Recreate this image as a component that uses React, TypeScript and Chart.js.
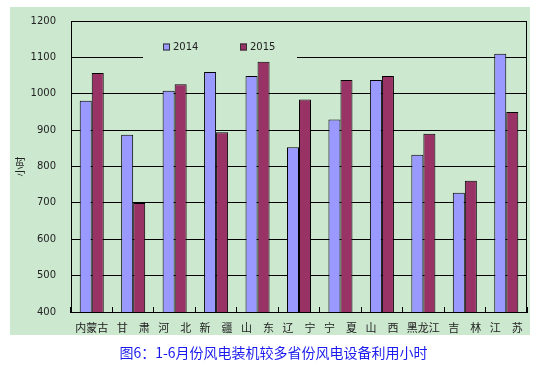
import React, { useEffect, useRef } from 'react';
import { Chart, registerables } from 'chart.js';

Chart.register(...registerables);

const provinces = ['内蒙古', '甘肃', '河北', '新疆', '山东', '辽宁', '宁夏', '山西', '黑龙江', '吉林', '江苏'];
const hours2014 = [981, 887, 1008, 1060, 1049, 853, 929, 1038, 832, 728, 1110];
const hours2015 = [1057, 700, 1026, 894, 1088, 984, 1038, 1049, 890, 761, 950];
const seriesLabels = ['2014', '2015'];
const seriesColors = ['#9999ff', '#993366'];
const yMin = 400;
const yMax = 1200;
const yStep = 100;
const yAxisTitle = '小时';
const chartTitle = '图6：1-6月份风电装机较多省份风电设备利用小时';

const PANEL = '#cce8cf';

const panelPlugin = {
  id: 'panel',
  beforeDraw(chart: any) {
    const ctx = chart.ctx;
    ctx.save();
    ctx.fillStyle = '#ffffff';
    ctx.fillRect(0, 0, chart.width, chart.height);
    ctx.fillStyle = PANEL;
    ctx.fillRect(10, 7, 520, 328);
    ctx.restore();
  },
};

const legendPlugin = {
  id: 'insideLegend',
  beforeDatasetsDraw(chart: any) {
    const ctx = chart.ctx;
    const ca = chart.chartArea;
    ctx.save();
    ctx.fillStyle = PANEL;
    ctx.fillRect(ca.left + 72, ca.top + 14, 154, 25);
    ctx.font = '10px "DejaVu Sans"';
    ctx.textBaseline = 'middle';
    const starts = [ca.left + 92, ca.left + 169];
    chart.data.datasets.forEach((ds: any, i: number) => {
      const x = starts[i];
      const y = ca.top + 26;
      ctx.fillStyle = ds.backgroundColor;
      ctx.fillRect(x, y - 3.5, 7, 7);
      ctx.strokeStyle = '#333';
      ctx.lineWidth = 1;
      ctx.strokeRect(x + 0.5, y - 3.5 + 0.5, 6, 6);
      ctx.fillStyle = '#222';
      ctx.fillText(ds.label, x + 10, y);
    });
    ctx.restore();
  },
  afterDraw(chart: any) {
    const ctx = chart.ctx;
    const ca = chart.chartArea;
    ctx.save();
    ctx.strokeStyle = '#000';
    ctx.lineWidth = 1;
    ctx.beginPath();
    ctx.moveTo(Math.round(ca.right) - 0.5, ca.top);
    ctx.lineTo(Math.round(ca.right) - 0.5, ca.bottom);
    ctx.stroke();
    ctx.restore();
  },
};

export default function App() {
  const ref = useRef<HTMLCanvasElement | null>(null);
  useEffect(() => {
    if (!ref.current) return;
    const chart = new Chart(ref.current, {
      type: 'bar',
      data: {
        labels: provinces,
        datasets: [
          {
            label: seriesLabels[0],
            data: hours2014,
            backgroundColor: seriesColors[0],
            borderColor: '#000',
            borderWidth: 1,
          },
          {
            label: seriesLabels[1],
            data: hours2015,
            backgroundColor: seriesColors[1],
            borderColor: '#000',
            borderWidth: 1,
          },
        ],
      },
      plugins: [panelPlugin, legendPlugin],
      options: {
        responsive: false,
        animation: false,
        devicePixelRatio: 1,
        layout: { padding: { left: 10, right: 12, top: 19, bottom: 0 } },
        datasets: { bar: { barPercentage: 1, categoryPercentage: 0.58 } },
        plugins: { legend: { display: false }, tooltip: { enabled: false }, title: { display: false } },
        scales: {
          x: {
            grid: { display: true, drawOnChartArea: false, drawTicks: true, tickLength: -5, color: '#000', offset: true },
            border: { display: true, color: '#000', width: 1 },
            ticks: {
              color: '#222',
              padding: 14,
              maxRotation: 0,
              autoSkip: false,
              font: { family: '"Noto Sans CJK SC"', size: 11 },
              callback: function (this: any, v: any) {
                const s: string = this.getLabelForValue(v);
                return s.length === 2 ? s[0] + '\u3000' + s[1] : s;
              },
            },
            afterFit(scale: any) {
              scale.height = 58;
            },
          },
          y: {
            min: yMin,
            max: yMax,
            grid: { color: '#000', drawTicks: false, lineWidth: 1 },
            border: { display: true, color: '#000', width: 1 },
            ticks: {
              stepSize: yStep,
              color: '#222',
              padding: 15,
              font: { family: '"DejaVu Sans"', size: 10 },
              callback: (v: any) => String(v),
            },
            title: {
              display: true,
              text: yAxisTitle,
              color: '#222',
              font: { family: '"Noto Sans CJK SC"', size: 10 },
              padding: { top: 4, bottom: 0 },
            },
            afterFit(scale: any) {
              scale.width = 61;
            },
          },
        },
      },
    } as any);
    return () => chart.destroy();
  }, []);
  return (
    <div style={{ position: 'absolute', left: 0, top: 0, width: 539, height: 370 }}>
      <canvas ref={ref} width={539} height={370} style={{ display: 'block' }} />
      <div
        style={{
          position: 'absolute',
          left: 0,
          width: 539,
          top: 342,
          textAlign: 'center',
          color: '#1a1aee',
          fontFamily: '"Noto Sans CJK SC"',
          fontSize: 14,
          lineHeight: '20px',
          paddingLeft: 4,
        }}
      >
        {chartTitle}
      </div>
    </div>
  );
}
